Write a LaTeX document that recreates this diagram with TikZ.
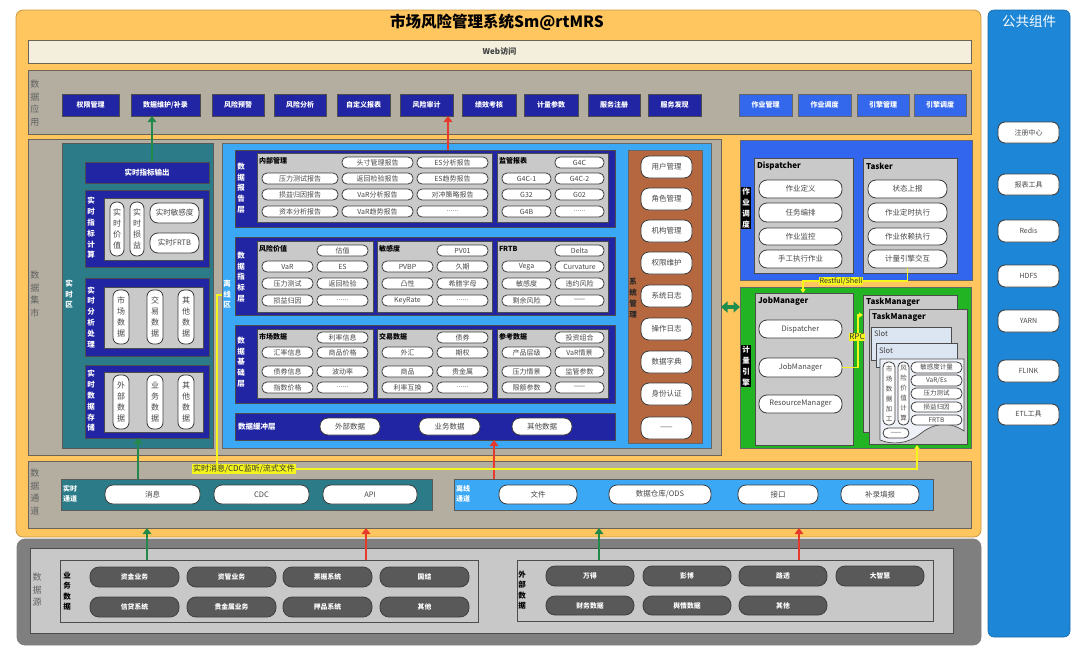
\documentclass[tikz,border=0pt]{standalone}
\usepackage{fontspec}
\setmainfont{Noto Sans CJK SC}
\usetikzlibrary{arrows.meta}
\definecolor{orangebg}{HTML}{FFC55E}
\definecolor{frameline}{HTML}{C89A45}
\definecolor{bandc}{HTML}{B4AEA1}
\definecolor{bandline}{HTML}{6B6358}
\definecolor{webbg}{HTML}{F3EFDC}
\definecolor{navy}{HTML}{2124A3}
\definecolor{appblue}{HTML}{3468EC}
\definecolor{rtteal}{HTML}{2B7C88}
\definecolor{offblue}{HTML}{3BA8F5}
\definecolor{boxgray}{HTML}{C9C9C9}
\definecolor{sysbrown}{HTML}{B5683F}
\definecolor{jobblue}{HTML}{3366EE}
\definecolor{enggreen}{HTML}{22B422}
\definecolor{pubblue}{HTML}{1E86D6}
\definecolor{srcdark}{HTML}{7F7F7F}
\definecolor{srclight}{HTML}{C8C8C8}
\definecolor{srcpillc}{HTML}{595959}
\definecolor{arrg}{HTML}{23894A}
\definecolor{arrg2}{HTML}{1E8E4E}
\definecolor{arrr}{HTML}{E53A2C}
\definecolor{ylw}{HTML}{F5F51E}
\definecolor{pillline}{HTML}{3C3C3C}
\definecolor{slotbg}{HTML}{DCE6F2}
\definecolor{docbg}{HTML}{EEF2F8}
\newcommand\bx[7]{\node[#2,anchor=north west,minimum width={(#5-#3)*1pt},minimum height={(#6-#4)*1pt}] (#1) at (#3,#4) {#7};}
\def\vtxt#1{\vtxtA#1\vtxtEnd}
\def\vtxtA#1#2\vtxtEnd{#1\if\relax\detokenize{#2}\relax\else\\\vtxtA#2\vtxtEnd\fi}
\tikzset{
 every node/.style={inner sep=0pt,outer sep=0pt},
 band/.style={draw=bandline,line width=0.9pt,fill=bandc},
 navyb/.style={draw=black!70,line width=0.8pt,fill=navy},
 appb/.style={navyb,text=white,font=\fontsize{7}{7.5}\selectfont\bfseries},
 appc/.style={draw=black!60,line width=0.8pt,fill=appblue,text=white,font=\fontsize{7}{7.5}\selectfont\bfseries},
 grayb/.style={draw=black!70,line width=0.7pt,fill=boxgray},
 pill/.style={draw=pillline,line width=0.8pt,fill=white,rounded corners=5pt,text=black!72,font=\fontsize{7}{8}\selectfont},
 bigpill/.style={pill,rounded corners=8pt,font=\fontsize{7.5}{8}\selectfont},
 vpill/.style={pill,rounded corners=6.5pt,align=center,font=\fontsize{8}{10.8}\selectfont},
 vpills/.style={pill,rounded corners=5pt,align=center,font=\fontsize{6.5}{10}\selectfont},
 vlab/.style={align=center,font=\fontsize{7.5}{10.8}\selectfont\bfseries,text=white},
 sidelab/.style={align=center,font=\fontsize{9}{12.5}\selectfont,text=black!62},
 ttl/.style={anchor=west,font=\fontsize{7}{8}\selectfont\bfseries,text=black},
 ttl2/.style={anchor=west,font=\fontsize{8}{9}\selectfont\bfseries,text=black},
 slot/.style={draw=black!70,line width=0.7pt,fill=slotbg},
 slottxt/.style={anchor=west,font=\fontsize{7.5}{8}\selectfont,text=black!75},
 chlab/.style={anchor=west,align=left,font=\fontsize{7}{10}\selectfont\bfseries,text=white},
 srclab/.style={align=center,font=\fontsize{7.5}{10.5}\selectfont\bfseries,text=black},
 spill/.style={draw=black!75,line width=0.8pt,fill=srcpillc,rounded corners=9pt,text=white,font=\fontsize{6.8}{7}\selectfont\bfseries},
 pubpill/.style={draw=black!75,line width=0.9pt,fill=white,rounded corners=7pt,text=black!72,font=\fontsize{7}{8}\selectfont},
 garrow/.style={draw=arrg,line width=2.6pt,-{Triangle[width=8.5pt,length=6pt]}},
 rarrow/.style={draw=arrr,line width=2.6pt,-{Triangle[width=8.5pt,length=6pt]}},
 dblarrow/.style={draw=arrg2,line width=3.4pt,{Triangle[width=11pt,length=6.5pt]}-{Triangle[width=11pt,length=6.5pt]}},
 yline/.style={draw=ylw,line width=1.3pt},
 ytip/.style={yline,-{Triangle[width=5pt,length=4pt]}},
 ylab/.style={fill=ylw,inner sep=0.8pt,text=black!80,font=\fontsize{7.2}{8}\selectfont},
 blklab/.style={vlab,fill=black,inner xsep=0.8pt,inner ysep=1pt},
}
\begin{document}
\begin{tikzpicture}[x=1pt,y=-1pt]
\useasboundingbox (0,0) rectangle (1080,651);
% ===== main frame
\bx{frame}{draw=frameline,line width=0.8pt,fill=orangebg,rounded corners=7pt}{16}{10}{981}{537}{}
\node[font=\fontsize{15.5}{16}\selectfont\bfseries] (title) at (497,22) {市场风险管理系统Sm@rtMRS};
\bx{web}{band,fill=webbg}{28}{40}{971}{63}{\fontsize{8}{9}\selectfont\bfseries\color{black!75}Web访问}
% ===== data application
\bx{appband}{band}{28}{70}{971}{134}{}
\node[sidelab] (lapp) at (35,103) {\vtxt{数据应用}};
\bx{a1}{appb}{62}{94}{119}{116}{权限管理}
\bx{a2}{appb}{131}{94}{200}{116}{数据维护/补录}
\bx{a3}{appb}{212}{94}{264}{116}{风险预警}
\bx{a4}{appb}{274}{94}{326}{116}{风险分析}
\bx{a5}{appb}{337}{94}{390}{116}{自定义报表}
\bx{a6}{appb}{400}{94}{453}{116}{风险审计}
\bx{a7}{appb}{462}{94}{516}{116}{绩效考核}
\bx{a8}{appb}{524}{94}{578}{116}{计量参数}
\bx{a9}{appb}{588}{94}{640}{116}{服务注册}
\bx{a10}{appb}{648}{94}{701}{116}{服务发现}
\bx{b1}{appc}{739}{94}{792}{116}{作业管理}
\bx{b2}{appc}{798}{94}{851}{116}{作业调度}
\bx{b3}{appc}{857}{94}{909}{116}{引擎管理}
\bx{b4}{appc}{914}{94}{966}{116}{引擎调度}
% ===== data mart
\bx{mart}{band}{28}{139}{721}{455}{}
\node[sidelab] (lmart) at (35,294) {\vtxt{数据集市}};
% --- real time zone
\bx{rt}{draw=black!65,line width=0.8pt,fill=rtteal}{62}{143}{213}{448}{}
\node[vlab] (lrt) at (69,294) {\vtxt{实时区}};
\bx{rtout}{navyb,text=white,font=\fontsize{7.5}{8}\selectfont\bfseries}{85}{162}{209}{183}{实时指标输出}
\bx{rtc}{navyb}{85}{190}{209}{267}{}
\node[vlab] (lrtc) at (91,228) {\vtxt{实时指标计算}};
\bx{rtcg}{grayb}{104}{198}{203}{260}{}
\bx{rtc1}{vpill}{110}{202}{124}{256}{\vtxt{实时价值}}
\bx{rtc2}{vpill}{130}{202}{144}{256}{\vtxt{实时损益}}
\bx{rtc3}{bigpill}{150}{203}{199}{223}{实时敏感度}
\bx{rtc4}{bigpill}{150}{233}{199}{253}{实时FRTB}
\bx{rta}{navyb}{85}{278}{209}{356}{}
\node[vlab] (lrta) at (91,317) {\vtxt{实时分析处理}};
\bx{rtag}{grayb}{104}{287}{203}{348}{}
\bx{rta1}{vpill}{113}{290}{129}{344}{\vtxt{市场数据}}
\bx{rta2}{vpill}{147}{290}{163}{344}{\vtxt{交易数据}}
\bx{rta3}{vpill}{178}{290}{194}{344}{\vtxt{其他数据}}
\bx{rts}{navyb}{85}{365}{209}{438}{}
\node[vlab] (lrts) at (91,401) {\vtxt{实时数据存储}};
\bx{rtsg}{grayb}{104}{372}{203}{432}{}
\bx{rts1}{vpill}{113}{375}{129}{429}{\vtxt{外部数据}}
\bx{rts2}{vpill}{147}{375}{163}{429}{\vtxt{业务数据}}
\bx{rts3}{vpill}{178}{375}{194}{429}{\vtxt{其他数据}}
% --- offline zone
\bx{off}{draw=black!60,line width=0.8pt,fill=offblue}{222}{143}{711}{448}{}
\node[vlab] (loff) at (227,294) {\vtxt{离线区}};
% report layer
\bx{rep}{navyb}{235}{150}{615}{227}{}
\node[vlab] (lrep) at (241,188) {\vtxt{数据报告层}};
\bx{repg1}{grayb}{257}{153}{492}{222}{}
\node[ttl] (trepg1) at (259,161) {内部管理};
\bx{p101}{pill}{342}{157}{413}{168}{头寸管理报告}
\bx{p102}{pill}{417}{157}{488}{168}{ES分析报告}
\bx{p103}{pill}{262}{173}{338}{184}{压力测试报告}
\bx{p104}{pill}{342}{173}{413}{184}{返回检验报告}
\bx{p105}{pill}{417}{173}{488}{184}{ES趋势报告}
\bx{p106}{pill}{262}{189}{338}{200}{损益归因报告}
\bx{p107}{pill}{342}{189}{413}{200}{VaR分析报告}
\bx{p108}{pill}{417}{189}{488}{200}{对冲策略报告}
\bx{p109}{pill}{262}{206}{338}{217}{资本分析报告}
\bx{p110}{pill}{342}{206}{413}{217}{VaR趋势报告}
\bx{p111}{pill}{417}{206}{488}{217}{......}
\bx{repg2}{grayb}{497}{153}{608}{222}{}
\node[ttl] (trepg2) at (499,161) {监管报表};
\bx{p121}{pill}{555}{157}{604}{168}{G4C}
\bx{p122}{pill}{502}{173}{551}{184}{G4C-1}
\bx{p123}{pill}{555}{173}{604}{184}{G4C-2}
\bx{p124}{pill}{502}{189}{551}{200}{G32}
\bx{p125}{pill}{555}{189}{604}{200}{G02}
\bx{p126}{pill}{502}{206}{551}{217}{G4B}
\bx{p127}{pill}{555}{206}{604}{217}{......}
% indicator layer
\bx{ind}{navyb}{235}{237}{615}{315}{}
\node[vlab] (lind) at (241,277) {\vtxt{数据指标层}};
\bx{indg1}{grayb}{257}{241}{373}{312}{}
\node[ttl] (tindg1) at (259,249) {风险价值};
\bx{p201}{pill}{317}{245}{368}{256}{估值}
\bx{p202}{pill}{262}{261}{313}{272}{VaR}
\bx{p203}{pill}{317}{261}{368}{272}{ES}
\bx{p204}{pill}{262}{278}{313}{289}{压力测试}
\bx{p205}{pill}{317}{278}{368}{289}{返回检验}
\bx{p206}{pill}{262}{295}{313}{306}{损益归因}
\bx{p207}{pill}{317}{295}{368}{306}{......}
\bx{indg2}{grayb}{377}{241}{492}{312}{}
\node[ttl] (tindg2) at (379,249) {敏感度};
\bx{p211}{pill}{437}{245}{488}{256}{PV01}
\bx{p212}{pill}{382}{261}{433}{272}{PVBP}
\bx{p213}{pill}{437}{261}{488}{272}{久期}
\bx{p214}{pill}{382}{278}{433}{289}{凸性}
\bx{p215}{pill}{437}{278}{488}{289}{希腊字母}
\bx{p216}{pill}{382}{295}{433}{306}{KeyRate}
\bx{p217}{pill}{437}{295}{488}{306}{......}
\bx{indg3}{grayb}{497}{241}{608}{312}{}
\node[ttl] (tindg3) at (499,249) {FRTB};
\bx{p221}{pill}{555}{245}{604}{256}{Delta}
\bx{p222}{pill}{502}{261}{551}{272}{Vega}
\bx{p223}{pill}{555}{261}{604}{272}{Curvature}
\bx{p224}{pill}{502}{278}{551}{289}{敏感度}
\bx{p225}{pill}{555}{278}{604}{289}{违约风险}
\bx{p226}{pill}{502}{295}{551}{306}{剩余风险}
\bx{p227}{pill}{555}{295}{604}{306}{——}
% base layer
\bx{base}{navyb}{235}{325}{615}{403}{}
\node[vlab] (lbase) at (241,362) {\vtxt{数据基础层}};
\bx{baseg1}{grayb}{257}{329}{373}{398}{}
\node[ttl] (tbaseg1) at (259,337) {市场数据};
\bx{p301}{pill}{317}{332}{368}{343}{利率信息}
\bx{p302}{pill}{262}{347}{313}{358}{汇率信息}
\bx{p303}{pill}{317}{347}{368}{358}{商品价格}
\bx{p304}{pill}{262}{366}{313}{377}{债券信息}
\bx{p305}{pill}{317}{366}{368}{377}{波动率}
\bx{p306}{pill}{262}{382}{313}{393}{指数价格}
\bx{p307}{pill}{317}{382}{368}{393}{......}
\bx{baseg2}{grayb}{377}{329}{492}{398}{}
\node[ttl] (tbaseg2) at (379,337) {交易数据};
\bx{p311}{pill}{437}{332}{488}{343}{债券}
\bx{p312}{pill}{382}{347}{433}{358}{外汇}
\bx{p313}{pill}{437}{347}{488}{358}{期权}
\bx{p314}{pill}{382}{366}{433}{377}{商品}
\bx{p315}{pill}{437}{366}{488}{377}{贵金属}
\bx{p316}{pill}{382}{382}{433}{393}{利率互换}
\bx{p317}{pill}{437}{382}{488}{393}{......}
\bx{baseg3}{grayb}{497}{329}{608}{398}{}
\node[ttl] (tbaseg3) at (499,337) {参考数据};
\bx{p321}{pill}{555}{332}{604}{343}{投资组合}
\bx{p322}{pill}{502}{347}{551}{358}{产品层级}
\bx{p323}{pill}{555}{347}{604}{358}{VaR情景}
\bx{p324}{pill}{502}{366}{551}{377}{压力情景}
\bx{p325}{pill}{555}{366}{604}{377}{监管参数}
\bx{p326}{pill}{502}{382}{551}{393}{限额参数}
\bx{p327}{pill}{555}{382}{604}{393}{——}
% buffer layer
\bx{buf}{navyb}{235}{413}{615}{440}{}
\node[vlab,anchor=west] (lbuf) at (238,427) {数据缓冲层};
\bx{bf1}{bigpill}{320}{418}{380}{435}{外部数据}
\bx{bf2}{bigpill}{419}{418}{480}{435}{业务数据}
\bx{bf3}{bigpill}{512}{418}{572}{435}{其他数据}
% system management
\bx{sys}{draw=black!60,line width=0.8pt,fill=sysbrown}{628}{150}{702}{443}{}
\node[vlab,text=black!85] (lsys) at (633,298) {\vtxt{系统管理}};
\bx{s1}{bigpill}{641}{156}{692}{178}{用户管理}
\bx{s2}{bigpill}{641}{188}{692}{210}{角色管理}
\bx{s3}{bigpill}{641}{220}{692}{242}{机构管理}
\bx{s4}{bigpill}{641}{252}{692}{274}{权限维护}
\bx{s5}{bigpill}{641}{285}{692}{307}{系统日志}
\bx{s6}{bigpill}{641}{318}{692}{340}{操作日志}
\bx{s7}{bigpill}{641}{351}{692}{373}{数据字典}
\bx{s8}{bigpill}{641}{383}{692}{405}{身份认证}
\bx{s9}{bigpill}{641}{417}{692}{439}{——}
% ===== job scheduling
\bx{job}{draw=black!60,line width=0.8pt,fill=jobblue}{740}{140}{972}{280}{}
\node[blklab] (ljob) at (746,208) {\vtxt{作业调度}};
\bx{disp}{grayb}{754}{158}{853}{273}{}
\node[ttl2] (tdisp) at (757,166) {Dispatcher};
\bx{dp1}{bigpill}{759}{180}{842}{198}{作业定义}
\bx{dp2}{bigpill}{759}{203}{842}{222}{任务编排}
\bx{dp3}{bigpill}{759}{228}{842}{245}{作业监控}
\bx{dp4}{bigpill}{759}{250}{842}{268}{手工执行作业}
\bx{task}{grayb}{863}{158}{957}{273}{}
\node[ttl2] (ttask) at (866,166) {Tasker};
\bx{tk1}{bigpill}{868}{180}{947}{198}{状态上报}
\bx{tk2}{bigpill}{868}{203}{947}{222}{作业定时执行}
\bx{tk3}{bigpill}{868}{228}{947}{245}{作业依赖执行}
\bx{tk4}{bigpill}{868}{250}{947}{268}{计量引擎交互}
% ===== compute engine
\bx{eng}{draw=black!60,line width=0.8pt,fill=enggreen}{740}{287}{971}{448}{}
\node[blklab] (leng) at (746,366) {\vtxt{计量引擎}};
\bx{jm}{grayb}{755}{293}{853}{445}{}
\node[ttl2] (tjm) at (758,301) {JobManager};
\bx{jm1}{bigpill}{759}{320}{842}{338}{Dispatcher}
\bx{jm2}{bigpill}{759}{358}{842}{377}{JobManager}
\bx{jm3}{bigpill}{759}{395}{842}{413}{ResourceManager}
\bx{tmA}{grayb}{863}{295}{957}{432}{}
\node[ttl2] (ttmA) at (866,302) {TaskManager};
\bx{tmB}{grayb}{869}{309}{967}{444}{}
\node[ttl2] (ttmB) at (872,317) {TaskManager};
\bx{slA}{slot}{871}{327}{951}{360}{}
\node[slottxt] (tslA) at (874,334) {Slot};
\bx{slB}{slot}{876}{343}{957}{367}{}
\node[slottxt] (tslB) at (879,351) {Slot};
\draw[draw=black!70,line width=0.7pt,fill=docbg] (880,359) -- (964,359) -- (964,431) .. controls (948,420) and (932,424) .. (920,434) .. controls (908,444) and (892,445) .. (880,440) -- cycle;
\bx{d1}{vpills}{883}{362}{895}{425}{\vtxt{市场数据加工}}
\bx{d2}{vpills}{898}{362}{909}{425}{\vtxt{风险价值计算}}
\bx{d3}{pill,font=\fontsize{6.5}{7}\selectfont}{911}{362}{962}{373}{敏感度计量}
\bx{d4}{pill,font=\fontsize{6.5}{7}\selectfont}{911}{375}{962}{386}{VaR/Es}
\bx{d5}{pill,font=\fontsize{6.5}{7}\selectfont}{911}{388}{962}{399}{压力测试}
\bx{d6}{pill,font=\fontsize{6.5}{7}\selectfont}{911}{402}{962}{412}{损益归因}
\bx{d7}{pill,font=\fontsize{6.5}{7}\selectfont}{911}{415}{962}{425}{FRTB}
\bx{d8}{pill,font=\fontsize{6.5}{7}\selectfont}{883}{428}{909}{438}{——}
% ===== data channel
\bx{chan}{band}{28}{461}{971}{528}{}
\node[sidelab] (lchan) at (35,492) {\vtxt{数据通道}};
\bx{rtch}{draw=black!65,line width=0.8pt,fill=rtteal}{61}{479}{432}{510}{}
\node[chlab] (lrtch) at (63,494) {实时\\通道};
\bx{ch1}{bigpill}{105}{485}{200}{504}{消息}
\bx{ch2}{bigpill}{214}{485}{309}{504}{CDC}
\bx{ch3}{bigpill}{323}{485}{417}{504}{API}
\bx{offch}{draw=black!65,line width=0.8pt,fill=offblue}{454}{479}{933}{510}{}
\node[chlab] (loffch) at (456,494) {离线\\通道};
\bx{ch4}{bigpill}{499}{485}{577}{504}{文件}
\bx{ch5}{bigpill}{609}{485}{711}{504}{数据仓库/ODS}
\bx{ch6}{bigpill}{738}{485}{818}{504}{接口}
\bx{ch7}{bigpill}{841}{485}{919}{504}{补录填报}
% ===== data sources
\bx{src}{draw=black!50,line width=0.8pt,fill=srcdark,rounded corners=8pt}{17}{539}{981}{645}{}
\bx{srcin}{draw=black!70,line width=0.8pt,fill=srclight}{30}{548}{953}{633}{}
\node[sidelab] (lsrc) at (37,590) {\vtxt{数据源}};
\bx{biz}{draw=black!70,line width=0.8pt,fill=srclight}{60}{560}{478}{622}{}
\node[srclab] (lbiz) at (67,591) {\vtxt{业务数据}};
\bx{q1}{spill}{90}{567}{179}{587}{资金业务}
\bx{q2}{spill}{187}{567}{276}{587}{资管业务}
\bx{q3}{spill}{283}{567}{372}{587}{票据系统}
\bx{q4}{spill}{380}{567}{469}{587}{国结}
\bx{q5}{spill}{90}{597}{179}{617}{信贷系统}
\bx{q6}{spill}{187}{597}{276}{617}{贵金属业务}
\bx{q7}{spill}{283}{597}{372}{617}{押品系统}
\bx{q8}{spill}{380}{597}{469}{617}{其他}
\bx{ext}{draw=black!70,line width=0.8pt,fill=srclight}{517}{560}{933}{621}{}
\node[srclab] (lext) at (522,590) {\vtxt{外部数据}};
\bx{e1}{spill}{546}{566}{634}{586}{万得}
\bx{e2}{spill}{643}{566}{731}{586}{彭博}
\bx{e3}{spill}{739}{566}{827}{586}{路透}
\bx{e4}{spill}{836}{566}{924}{586}{大智慧}
\bx{e5}{spill}{546}{596}{634}{615}{财务数据}
\bx{e6}{spill}{643}{596}{731}{615}{舆情数据}
\bx{e7}{spill}{739}{596}{827}{615}{其他}
% ===== public components
\bx{pub}{fill=pubblue,draw=pubblue!80!black,line width=0.6pt,rounded corners=6pt}{988}{10}{1070}{637}{}
\node[font=\fontsize{13.5}{14}\selectfont,text=white] (tpub) at (1029,21) {公共组件};
\bx{u1}{pubpill}{998}{122}{1059}{143}{注册中心}
\bx{u2}{pubpill}{998}{174}{1059}{195}{报表工具}
\bx{u3}{pubpill}{998}{220}{1059}{242}{Redis}
\bx{u4}{pubpill}{998}{265}{1059}{287}{HDFS}
\bx{u5}{pubpill}{998}{310}{1059}{332}{YARN}
\bx{u6}{pubpill}{998}{360}{1059}{382}{FLINK}
\bx{u7}{pubpill}{998}{404}{1059}{425}{ETL工具}
% ===== connectors
\coordinate (g1) at (152,162);
\draw[garrow] (g1) -- (g1 |- a2.south);
\coordinate (r1) at (448,150);
\draw[rarrow] (r1) -- (r1 |- a6.south);
\coordinate (g2) at (138,479);
\draw[garrow] (g2) -- (g2 |- rts.south);
\coordinate (r2) at (494,479);
\draw[rarrow] (r2) -- (r2 |- buf.south);
\coordinate (g3) at (147,560);
\draw[garrow] (g3) -- (g3 |- chan.south);
\coordinate (r3) at (366,560);
\draw[rarrow] (r3) -- (r3 |- chan.south);
\coordinate (g4) at (599,560);
\draw[garrow] (g4) -- (g4 |- chan.south);
\coordinate (r4) at (799,560);
\draw[rarrow] (r4) -- (r4 |- chan.south);
\coordinate (da1) at (721,307);
\coordinate (da2) at (740,307);
\draw[dblarrow] (da1) -- (da2);
% Restful/Shell
\coordinate (rs1) at (907.5,281);
\coordinate (rs2) at (803,281);
\draw[ytip] (tk4.south) -- (rs1) -- (rs2) -- (rs2 |- jm.north);
\node[ylab] (lrs) at (841,281) {Restful/Shell};
% RPC
\coordinate (rp1) at (858,367.5);
\coordinate (rp2) at (858,315);
\draw[ytip] (jm2.east) -- (rp1) -- (rp2) -- (rp2 -| tmA.west);
\node[ylab,font=\fontsize{8}{9}\selectfont] (lrpc) at (857,337) {RPC};
% realtime stream
\coordinate (y0) at (222,295);
\coordinate (y1) at (217,295);
\coordinate (y2) at (217,469);
\coordinate (y3) at (917,469);
\coordinate (y4) at (917,445);
\draw[ytip] (y0) -- (y1) -- (y2) -- (y3) -- (y4);
\node[ylab,font=\fontsize{8}{9}\selectfont] (lstream) at (244,469) {实时消息/CDC监听/流式文件};
\end{tikzpicture}
\end{document}
